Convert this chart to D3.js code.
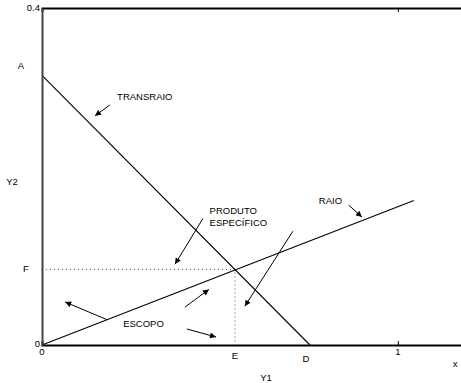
<!DOCTYPE html>
<html>
<head>
<meta charset="utf-8">
<script src="https://cdn.jsdelivr.net/npm/d3@7"></script>
<style>
  body { margin: 0; background: #fff; }
  text { font-family: "Liberation Sans", Arial, sans-serif; font-size: 9.5px; fill: #000; }
</style>
</head>
<body>
<svg id="chart" width="461" height="383"></svg>
<script>
// lines, in data units (Y1 across, Y2 up)
const transraio = [[0, 0.32], [0.753, 0]];
const raio = [[0, 0], [1.045, 0.1715]];
const pointE = 0.542;      // where the two lines cross
const pointF = 0.0897;

// arrows: [x1, y1, x2, y2], tail to head
const arrows = [
    [0.191, 0.285, 0.149, 0.272],   // transraio
    [0.452, 0.150, 0.374, 0.096],   // produto especifico
    [0.705, 0.135, 0.570, 0.046],   // long one
    [0.402, 0.045, 0.469, 0.066],
    [0.407, 0.019, 0.489, 0.0095],  // escopo right
    [0.183, 0.030, 0.065, 0.051],   // escopo left
    [0.862, 0.166, 0.899, 0.152]    // raio
];

// labels inside the plot: [text, x, y]
const labels = [
    ['TRANSRAIO', 0.211, 0.291],
    ['PRODUTO', 0.471, 0.155],
    ['ESPECÍFICO', 0.471, 0.141],
    ['RAIO', 0.778, 0.167],
    ['ESCOPO', 0.228, 0.021]
];

const xTickLabels = [[0, '0'], [pointE, 'E'], [0.742, 'D'], [1, '1']];

const svg = d3.select('#chart');
const x = d3.scaleLinear().domain([0, 1.2]).range([42, 469]);
const y = d3.scaleLinear().domain([0, 0.4]).range([345, 8]);

svg.append('defs').append('marker')
    .attr('id', 'head')
    .attr('viewBox', '0 0 10 10')
    .attr('refX', 10).attr('refY', 5)
    .attr('markerWidth', 7).attr('markerHeight', 6)
    .attr('markerUnits', 'userSpaceOnUse')
    .attr('orient', 'auto')
    .append('path').attr('d', 'M0,0L10,5L0,10z').attr('fill', '#000');

// dotted guides to E and F
svg.append('path')
    .attr('d', `M${x(0)},${y(pointF)}H${x(pointE)}V${y(0)}`)
    .attr('fill', 'none').attr('stroke', '#555')
    .attr('stroke-width', 1).attr('stroke-dasharray', '1,3');

const line = d3.line().x(d => x(d[0])).y(d => y(d[1]));
[transraio, raio].forEach(pts => {
    svg.append('path').attr('d', line(pts))
        .attr('fill', 'none').attr('stroke', '#000').attr('stroke-width', 1.1);
});

svg.append('g').selectAll('line')
    .data(arrows)
    .enter().append('line')
    .attr('x1', d => x(d[0])).attr('y1', d => y(d[1]))
    .attr('x2', d => x(d[2])).attr('y2', d => y(d[3]))
    .attr('stroke', '#000').attr('stroke-width', 1)
    .attr('marker-end', 'url(#head)');

// frame: bottom, top and left
const axBottom = svg.append('g').attr('transform', `translate(0,${y(0)})`)
    .call(d3.axisBottom(x).tickValues([1]).tickSize(-4).tickFormat(''));
const axTop = svg.append('g').attr('transform', `translate(0,${y(0.4)})`)
    .call(d3.axisTop(x).tickValues([1]).tickSize(-4).tickFormat(''));
const axLeft = svg.append('g').attr('transform', `translate(${x(0)},0)`)
    .call(d3.axisLeft(y).tickValues([]).tickSizeOuter(0));
[axBottom, axTop, axLeft].forEach(g => {
    g.select('.domain').attr('stroke', '#000').attr('stroke-width', 2);
    g.selectAll('.tick line').attr('stroke', '#000');
});
axLeft.select('.domain').attr('stroke', '#444');

svg.append('g').selectAll('text')
    .data(labels)
    .enter().append('text')
    .attr('x', d => x(d[1])).attr('y', d => y(d[2]))
    .text(d => d[0]);

svg.append('g').selectAll('text')
    .data(xTickLabels)
    .enter().append('text')
    .attr('x', d => x(d[0]))
    .attr('y', d => d[1] === 'D' ? 362 : (d[1] === 'E' ? 359 : 355))
    .attr('text-anchor', 'middle')
    .text(d => d[1]);

svg.append('text').attr('x', 40).attr('y', y(0.4) + 3).attr('text-anchor', 'end').text('0.4');
svg.append('text').attr('x', 40).attr('y', y(0) + 2).attr('text-anchor', 'end').text('0');
svg.append('text').attr('x', 21).attr('y', y(transraio[0][1]) - 6).attr('text-anchor', 'middle').text('A');
svg.append('text').attr('x', 26).attr('y', y(pointF) + 3).attr('text-anchor', 'middle').text('F');
svg.append('text').attr('x', 12).attr('y', 185).attr('text-anchor', 'middle').text('Y2');
svg.append('text').attr('x', 266).attr('y', 381).attr('text-anchor', 'middle').text('Y1');
svg.append('text').attr('x', 455).attr('y', 367).attr('text-anchor', 'middle').text('x');
</script>
</body>
</html>
